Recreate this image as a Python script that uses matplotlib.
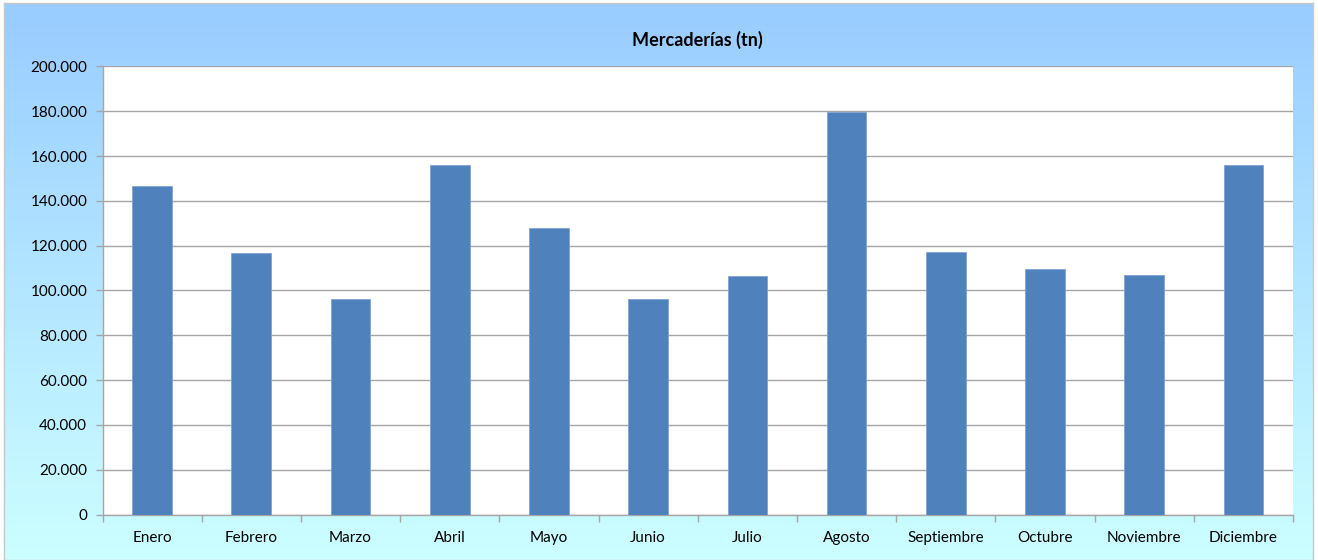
import matplotlib
matplotlib.use("Agg")
import matplotlib.pyplot as plt
import numpy as np
from matplotlib.ticker import FuncFormatter, FixedLocator
from matplotlib.colors import LinearSegmentedColormap

categories = ["Enero", "Febrero", "Marzo", "Abril", "Mayo", "Junio", "Julio",
              "Agosto", "Septiembre", "Octubre", "Noviembre", "Diciembre"]
values = [146500, 116600, 96000, 156000, 127800, 96000, 106300,
          179800, 117200, 109500, 106800, 156000]
title = "Mercaderías (tn)"

plt.rcParams['font.family'] = ['Lato', 'DejaVu Sans']

W, H = 1318, 560
fig = plt.figure(figsize=(W / 100, H / 100), dpi=100)
fig.patch.set_facecolor("white")

# background gradient panel
bg = fig.add_axes([4 / W, 0, (1313 - 4) / W, (H - 3) / H], zorder=0)
cmap = LinearSegmentedColormap.from_list("g", ["#99CCFF", "#CCFFFF"])
grad = np.linspace(0, 1, 256).reshape(-1, 1)
bg.imshow(grad, aspect="auto", cmap=cmap, extent=[0, 1, 0, 1], origin="upper")
bg.set_xticks([]); bg.set_yticks([])
for s in bg.spines.values():
    s.set_color("#C8C8C8")
    s.set_linewidth(1)

L, R, T, B = 102.5, 1293, 66.5, 514.5
ax = fig.add_axes([L / W, (H - B) / H, (R - L) / W, (B - T) / H], zorder=1)
ax.set_facecolor("white")

x = np.arange(len(categories))
ax.bar(x, values, width=0.4, color="#4F81BD", edgecolor="#7FA3D0", linewidth=0.6, zorder=3)

ax.set_xlim(-0.5, len(categories) - 0.5)
ax.set_ylim(0, 200000)
ax.set_yticks(np.arange(0, 200001, 20000))
ax.yaxis.set_major_formatter(FuncFormatter(lambda v, p: f"{int(v):,}".replace(",", ".")))
ax.grid(axis="y", color="#A6A6A6", linewidth=1, zorder=0)
ax.set_axisbelow(True)

ax.set_xticks(x)
ax.set_xticklabels(categories)
ax.xaxis.set_minor_locator(FixedLocator(np.arange(-0.5, len(categories), 1.0)))
ax.tick_params(axis="x", which="major", length=0, pad=12, labelsize=11, labelcolor="black")
ax.tick_params(axis="x", which="minor", length=5, color="#A6A6A6", width=1)
ax.tick_params(axis="y", which="major", length=5, color="#A6A6A6", width=1, pad=6,
               labelsize=11, labelcolor="black")

for s in ["top", "right"]:
    ax.spines[s].set_visible(False)
for s in ["left", "bottom"]:
    ax.spines[s].set_color("#A6A6A6")
    ax.spines[s].set_linewidth(1)

fig.text((L + R) / 2 / W, 1 - 40 / H, title, ha="center", va="center",
         fontsize=13, fontweight="bold", color="black")

fig.savefig("out.png", dpi=100)
